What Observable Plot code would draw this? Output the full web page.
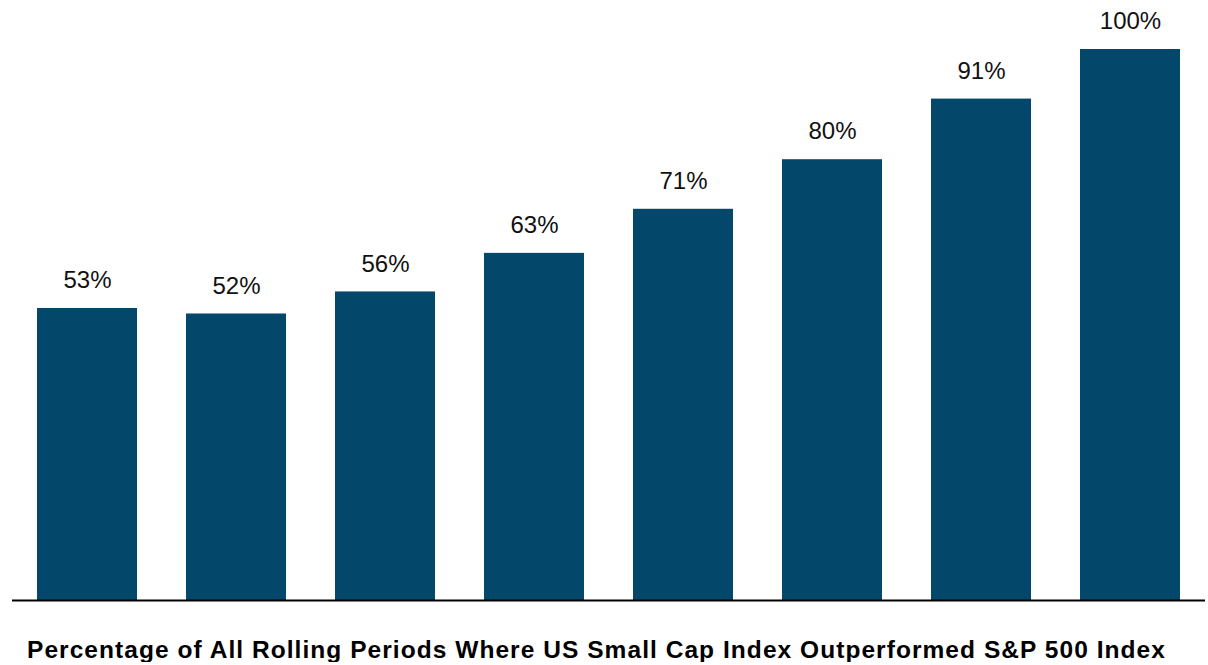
<!DOCTYPE html>
<html>
<head>
<meta charset="utf-8">
<script src="https://cdn.jsdelivr.net/npm/d3@7"></script>
<script src="https://cdn.jsdelivr.net/npm/@observablehq/plot@0.6"></script>
<style>
  html, body { margin: 0; padding: 0; background: #fff; }
  #chart svg { display: block; }
  #title { font-family: "Liberation Sans", Arial, sans-serif; font-weight: bold; font-size: 24.5px; line-height: 24px; letter-spacing: 1.05px; color: #000; text-align: center; margin-top: 28px; padding-right: 15px; white-space: nowrap; }
</style>
</head>
<body>
<div id="chart"></div>
<div id="title">Percentage of All Rolling Periods Where US Small Cap Index Outperformed S&amp;P 500 Index</div>
<script>
const periods = ["P1", "P2", "P3", "P4", "P5", "P6", "P7", "P8"];
const values = [53, 52, 56, 63, 71, 80, 91, 100];
const labels = ["53%", "52%", "56%", "63%", "71%", "80%", "91%", "100%"];

const data = periods.map((p, i) => ({period: p, value: values[i], label: labels[i]}));

const chart = Plot.plot({
  width: 1208,
  height: 610,
  marginTop: 49,
  marginBottom: 10,
  marginLeft: 12,
  marginRight: 3,
  style: {fontFamily: "'Liberation Sans', Arial, sans-serif", background: "#fff"},
  x: {domain: periods, paddingInner: 0.33, paddingOuter: 0.16, axis: null},
  y: {domain: [0, 100], axis: null},
  marks: [
    Plot.barY(data, {x: "period", y: "value", fill: "#03476b"}),
    Plot.text(data, {x: "period", y: "value", text: "label", dy: -28, fontSize: 24, fill: "#111"}),
    Plot.ruleY([0], {stroke: "#000", strokeWidth: 2})
  ]
});
document.getElementById("chart").append(chart);
</script>
</body>
</html>
